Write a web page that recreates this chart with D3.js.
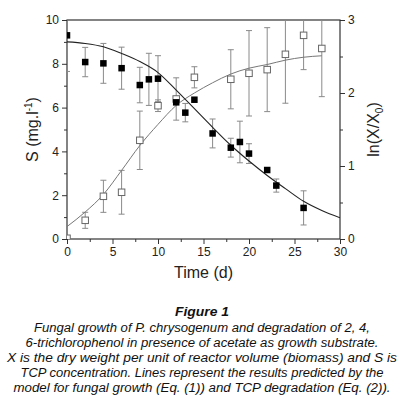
<!DOCTYPE html>
<html><head><meta charset="utf-8">
<script src="https://cdn.jsdelivr.net/npm/d3@7"></script>
<style>
html,body{margin:0;padding:0;background:#fff;}
svg{display:block;font-family:"Liberation Sans",Arial,sans-serif;}
</style></head>
<body>
<svg id="c" width="402" height="399"></svg>
<script>
// TCP concentration S (left axis), filled squares
const sTime  = [0, 2, 4, 6, 8, 9, 10, 12, 13, 14, 16, 18, 19, 20, 22, 23, 26];
const sValue = [9.3, 8.08, 8.02, 7.8, 7.03, 7.29, 7.32, 6.24, 5.77, 6.36, 4.82, 4.17, 4.43, 3.9, 3.15, 2.44, 1.42];
const sError = [1.65, 0.67, 0.91, 0.96, 0.81, 1.19, 1.05, 0, 0.42, 0, 0.66, 0.43, 0.95, 0.45, 0, 0.3, 0.78];
// ln(X/X0) (right axis), open squares
const xTime  = [0, 2, 4, 6, 8, 10, 12, 14, 18, 20, 22, 24, 26, 28];
const xValue = [0.01, 0.256, 0.585, 0.64, 1.352, 1.826, 1.918, 2.215, 2.188, 2.27, 2.32, 2.53, 2.79, 2.61];
const xError = [0, 0.11, 0.22, 0.3, 0.4, 0.08, 0.29, 0.145, 0.405, 0.585, 0.575, 0.67, 0.47, 0.66];
// model curves
const sModelTime  = [0, 2, 4, 6, 8, 10, 12, 14, 16, 18, 20, 22, 24, 26, 28, 30];
const sModelValue = [9.0, 8.93, 8.78, 8.47, 8.1, 7.6, 6.8, 5.95, 5.1, 4.28, 3.56, 2.9, 2.3, 1.72, 1.3, 0.97];
const xModelTime  = [0, 2, 4, 6, 8, 10, 12, 14, 16, 18, 20, 22, 24, 26, 28];
const xModelValue = [0.17, 0.37, 0.61, 0.94, 1.28, 1.57, 1.83, 2.0, 2.14, 2.26, 2.34, 2.39, 2.45, 2.49, 2.51];
// ticks
const xTicks = [0, 5, 10, 15, 20, 25, 30];
const xMinor = [2.5, 7.5, 12.5, 17.5, 22.5, 27.5];
const yLeftTicks = [0, 2, 4, 6, 8, 10];
const yLeftMinor = [1, 3, 5, 7, 9];
const yRightTicks = [0, 1, 2, 3];
const yRightMinor = [0.5, 1.5, 2.5];
const captionTitle = "Figure 1";
const captionLines = [
  "Fungal growth of P. chrysogenum and degradation of 2, 4,",
  "6-trichlorophenol in presence of acetate as growth substrate.",
  "X is the dry weight per unit of reactor volume (biomass) and S is",
  "TCP concentration. Lines represent the results predicted by the",
  "model for fungal growth (Eq. (1)) and TCP degradation (Eq. (2))."
];
// layout: measured widths of caption lines in the reference (px)
const captionWidths = [336, 353, 390, 363, 377];

const svg = d3.select("#c");
const L = 67, T = 20, W = 273, H = 219;
const x = d3.scaleLinear().domain([0, 30]).range([L, L + W]);
const yL = d3.scaleLinear().domain([0, 10]).range([T + H, T]);
const yR = d3.scaleLinear().domain([0, 3]).range([T + H, T]);

svg.append("defs").append("clipPath").attr("id", "clip")
  .append("rect").attr("x", L).attr("y", T).attr("width", W).attr("height", H);

const axCol = "#333";
const txtCol = "#222";

// axes
svg.append("g").attr("transform", `translate(0,${T + H})`)
  .call(d3.axisBottom(x).tickValues(xTicks).tickSize(5).tickPadding(3).tickFormat(d3.format("d")));
svg.append("g").attr("transform", `translate(0,${T + H})`)
  .call(d3.axisBottom(x).tickValues(xMinor).tickSize(3).tickFormat(""));
svg.append("g").attr("transform", `translate(${L},0)`)
  .call(d3.axisLeft(yL).tickValues(yLeftTicks).tickSize(5).tickPadding(3).tickFormat(d3.format("d")));
svg.append("g").attr("transform", `translate(${L},0)`)
  .call(d3.axisLeft(yL).tickValues(yLeftMinor).tickSize(3).tickFormat(""));
svg.append("g").attr("transform", `translate(${L + W},0)`)
  .call(d3.axisRight(yR).tickValues(yRightTicks).tickSize(5).tickPadding(3).tickFormat(d3.format("d")));
svg.append("g").attr("transform", `translate(${L + W},0)`)
  .call(d3.axisRight(yR).tickValues(yRightMinor).tickSize(3).tickFormat(""));
svg.selectAll(".domain").remove();
svg.selectAll(".tick line").attr("stroke", axCol).attr("stroke-width", 1);
svg.selectAll(".tick text").attr("fill", txtCol).style("font-size", "12px")
  .style("font-family", '"Liberation Sans",Arial,sans-serif');

// frame
svg.append("rect").attr("x", L).attr("y", T).attr("width", W).attr("height", H)
  .attr("fill", "none").attr("stroke", axCol).attr("stroke-width", 1.2);

const plot = svg.append("g").attr("clip-path", "url(#clip)");

// error bars
function errorBars(times, vals, errs, scale, color) {
  const d = times.map((t, i) => ({t, v: vals[i], e: errs[i]})).filter(p => p.e > 0);
  const g = plot.append("g").attr("stroke", color).attr("stroke-width", 1).attr("fill", "none");
  g.selectAll("line.v").data(d).join("line")
    .attr("x1", p => x(p.t)).attr("x2", p => x(p.t))
    .attr("y1", p => scale(p.v + p.e)).attr("y2", p => scale(p.v - p.e));
  g.selectAll("line.top").data(d).join("line")
    .attr("x1", p => x(p.t) - 3).attr("x2", p => x(p.t) + 3)
    .attr("y1", p => scale(p.v + p.e)).attr("y2", p => scale(p.v + p.e));
  g.selectAll("line.bot").data(d).join("line")
    .attr("x1", p => x(p.t) - 3).attr("x2", p => x(p.t) + 3)
    .attr("y1", p => scale(p.v - p.e)).attr("y2", p => scale(p.v - p.e));
}
errorBars(xTime, xValue, xError, yR, "#8a8a8a");
errorBars(sTime, sValue, sError, yL, "#8a8a8a");

// model curves
const lineS = d3.line().x(d => x(d[0])).y(d => yL(d[1])).curve(d3.curveMonotoneX);
const lineX = d3.line().x(d => x(d[0])).y(d => yR(d[1])).curve(d3.curveMonotoneX);
plot.append("path").datum(xModelTime.map((t, i) => [t, xModelValue[i]]))
  .attr("d", lineX).attr("fill", "none").attr("stroke", "#777").attr("stroke-width", 1);
plot.append("path").datum(sModelTime.map((t, i) => [t, sModelValue[i]]))
  .attr("d", lineS).attr("fill", "none").attr("stroke", "#222").attr("stroke-width", 1.1);

// markers
const sz = 6.5;
plot.append("g").selectAll("rect").data(xTime.map((t, i) => [t, xValue[i]])).join("rect")
  .attr("x", d => x(d[0]) - sz / 2).attr("y", d => yR(d[1]) - sz / 2)
  .attr("width", sz).attr("height", sz)
  .attr("fill", "#fff").attr("stroke", "#666").attr("stroke-width", 1);
plot.append("g").selectAll("rect").data(sTime.map((t, i) => [t, sValue[i]])).join("rect")
  .attr("x", d => x(d[0]) - sz / 2).attr("y", d => yL(d[1]) - sz / 2)
  .attr("width", sz).attr("height", sz)
  .attr("fill", "#000");

// axis titles
const lt = svg.append("text").attr("transform", `translate(38,${T + H / 2}) rotate(-90)`)
  .attr("text-anchor", "middle").attr("fill", txtCol).style("font-size", "16px");
lt.append("tspan").text("S (mg.l");
lt.append("tspan").attr("dy", -6).style("font-size", "10px").text("-1");
lt.append("tspan").attr("dy", 6).text(")");

const rt = svg.append("text").attr("transform", `translate(379,${T + H / 2}) rotate(-90)`)
  .attr("text-anchor", "middle").attr("fill", txtCol).style("font-size", "16px");
rt.append("tspan").text("ln(X/X");
rt.append("tspan").attr("dy", 4).style("font-size", "10px").text("0");
rt.append("tspan").attr("dy", -4).text(")");

svg.append("text").attr("x", L + W / 2).attr("y", 278).attr("text-anchor", "middle")
  .attr("fill", txtCol).style("font-size", "16px").text("Time (d)");

// caption
svg.append("text").attr("x", 202).attr("y", 316).attr("text-anchor", "middle")
  .attr("fill", "#111").style("font-size", "12.5px").style("font-weight", "bold").style("font-style", "italic")
  .attr("textLength", 54).attr("lengthAdjust", "spacingAndGlyphs")
  .text(captionTitle);
svg.append("g").selectAll("text").data(captionLines).join("text")
  .attr("x", 202).attr("y", (d, i) => 332 + i * 15).attr("text-anchor", "middle")
  .attr("fill", "#111").style("font-size", "12.5px").style("font-style", "italic")
  .attr("textLength", (d, i) => captionWidths[i]).attr("lengthAdjust", "spacingAndGlyphs")
  .text(d => d);
</script>
</body></html>
